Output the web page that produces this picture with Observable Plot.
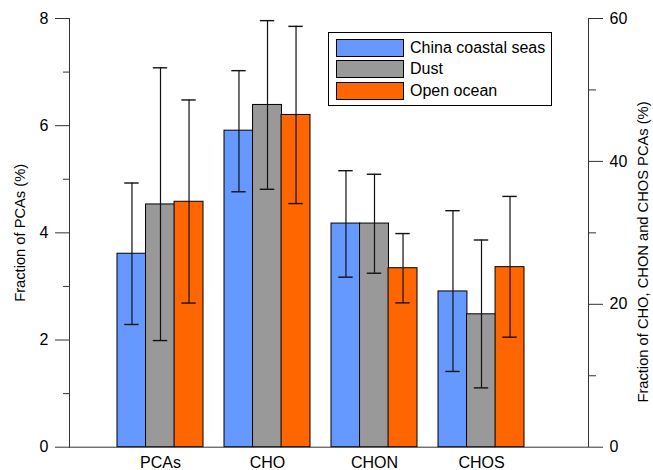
<!DOCTYPE html>
<html><head><meta charset="utf-8">
<script src="https://cdn.jsdelivr.net/npm/d3@7"></script>
<script src="https://cdn.jsdelivr.net/npm/@observablehq/plot@0.6"></script>
<style>
body{margin:0;background:#fff;font-family:"Liberation Sans",Arial,Helvetica,sans-serif}
#wrap{position:relative;width:653px;height:470px}
.legend{position:absolute;left:328px;top:32px;width:224px;height:74px;border:1px solid #000;box-sizing:border-box;background:#fff}
.row{position:absolute;left:7px;height:17px;font-size:16px;line-height:17px;white-space:nowrap}
.sw{display:inline-block;width:66px;height:16px;border:1px solid #000;vertical-align:top;margin-right:6px}
.rtitle{position:absolute;left:643px;top:252px;font-size:14.7px;white-space:nowrap;transform:translate(-50%,-50%) rotate(-90deg);line-height:1}
</style></head><body><div id="wrap"></div>
<script>
const categories = ["PCAs", "CHO", "CHON", "CHOS"];
const series = ["China coastal seas", "Dust", "Open ocean"];
const colors = ["#6699ff", "#999999", "#ff6600"];
// PCAs read on the left axis (%); CHO, CHON, CHOS read on the right axis (%)
const axisSide = ["left", "right", "right", "right"];
const chinaMean = [3.61, 44.3, 31.3, 21.8];
const chinaLow  = [2.29, 35.75, 23.8, 10.6];
const chinaHigh = [4.93, 52.7, 38.7, 33.1];
const dustMean  = [4.53, 47.9, 31.3, 18.6];
const dustLow   = [1.99, 36.1, 24.35, 8.3];
const dustHigh  = [7.08, 59.7, 38.2, 29.0];
const oceanMean = [4.58, 46.5, 25.05, 25.2];
const oceanLow  = [2.69, 34.1, 20.2, 15.4];
const oceanHigh = [6.48, 58.9, 29.9, 35.1];
const leftTicks = [0, 2, 4, 6, 8];
const leftMinor = [1, 3, 5, 7];
const rightTicks = [0, 20, 40, 60];
const rightMinor = [10, 30, 50];
const ratio = 60 / 8;
const leftTitle = "Fraction of PCAs (%)";
const rightTitle = "Fraction of CHO, CHON and CHOS PCAs (%)";

const seriesData = [
  [chinaMean, chinaLow, chinaHigh],
  [dustMean, dustLow, dustHigh],
  [oceanMean, oceanLow, oceanHigh]
];
const rows = [];
seriesData.forEach(([m, lo, hi], si) => {
  categories.forEach((c, ci) => {
    const k = axisSide[ci] === "right" ? 1 / ratio : 1;
    rows.push({category: c, series: series[si], mean: m[ci] * k, low: lo[ci] * k, high: hi[ci] * k});
  });
});

const bw = 85.6, sub = bw / 3, cap = 14;
const marks = [];
series.forEach((s, i) => {
  const d = rows.filter(r => r.series === s);
  marks.push(Plot.barY(d, {x: "category", y: "mean", fill: colors[i], stroke: "#000", strokeWidth: 1,
    insetLeft: i * sub, insetRight: (2 - i) * sub}));
});
series.forEach((s, i) => {
  const d = rows.filter(r => r.series === s);
  const il = i * sub + (sub - cap) / 2, ir = (2 - i) * sub + (sub - cap) / 2;
  marks.push(Plot.ruleX(d, {x: "category", y1: "low", y2: "high", dx: (i - 1) * sub, stroke: "#111", strokeWidth: 1.2}));
  marks.push(Plot.tickY(d, {x: "category", y: "high", insetLeft: il, insetRight: ir, stroke: "#111", strokeWidth: 1.4}));
  marks.push(Plot.tickY(d, {x: "category", y: "low", insetLeft: il, insetRight: ir, stroke: "#111", strokeWidth: 1.4}));
});

const chart = Plot.plot({
  width: 653, height: 470,
  marginLeft: 69, marginRight: 65, marginTop: 18, marginBottom: 23.3,
  style: {fontSize: "16px", fontFamily: "'Liberation Sans', Arial, Helvetica, sans-serif", color: "#000", background: "#fff"},
  x: {domain: categories, range: [106, 534], paddingInner: 0.2, paddingOuter: 0.1},
  y: {domain: [0, 8]},
  marks: [
    ...marks,
    Plot.frame({anchor: "left", stroke: "#333"}),
    Plot.frame({anchor: "right", stroke: "#333"}),
    Plot.ruleY([0], {stroke: "#333"}),
    Plot.axisY({ticks: leftTicks, tickSize: 14, tickPadding: 7, fontSize: 16, label: null, stroke: "#333"}),
    Plot.axisY({ticks: leftMinor, tickSize: 6, tickFormat: () => "", label: null, stroke: "#333"}),
    Plot.axisY({anchor: "right", ticks: rightTicks.map(v => v / ratio), tickFormat: d => String(Math.round(d * ratio)),
      tickSize: 14, tickPadding: 7, fontSize: 16, label: null, stroke: "#333"}),
    Plot.axisY({anchor: "right", ticks: rightMinor.map(v => v / ratio), tickSize: 7, tickFormat: () => "", label: null, stroke: "#333"}),
    Plot.axisX({tickSize: 0, tickPadding: 9.5, fontSize: 16, label: null}),
    Plot.text([leftTitle], {frameAnchor: "left", textAnchor: "middle", lineAnchor: "middle", dx: -49, rotate: -90, fontSize: 14.7})
  ]
});
const wrap = document.getElementById("wrap");
wrap.appendChild(chart);
const rt = document.createElement("div");
rt.className = "rtitle";
rt.textContent = rightTitle;
wrap.appendChild(rt);
const lg = document.createElement("div");
lg.className = "legend";
series.forEach((s, i) => {
  const r = document.createElement("div");
  r.className = "row";
  r.style.top = (6 + i * 21.3) + "px";
  const sw = document.createElement("span");
  sw.className = "sw";
  sw.style.background = colors[i];
  r.appendChild(sw);
  r.appendChild(document.createTextNode(s));
  lg.appendChild(r);
});
wrap.appendChild(lg);
</script></body></html>
